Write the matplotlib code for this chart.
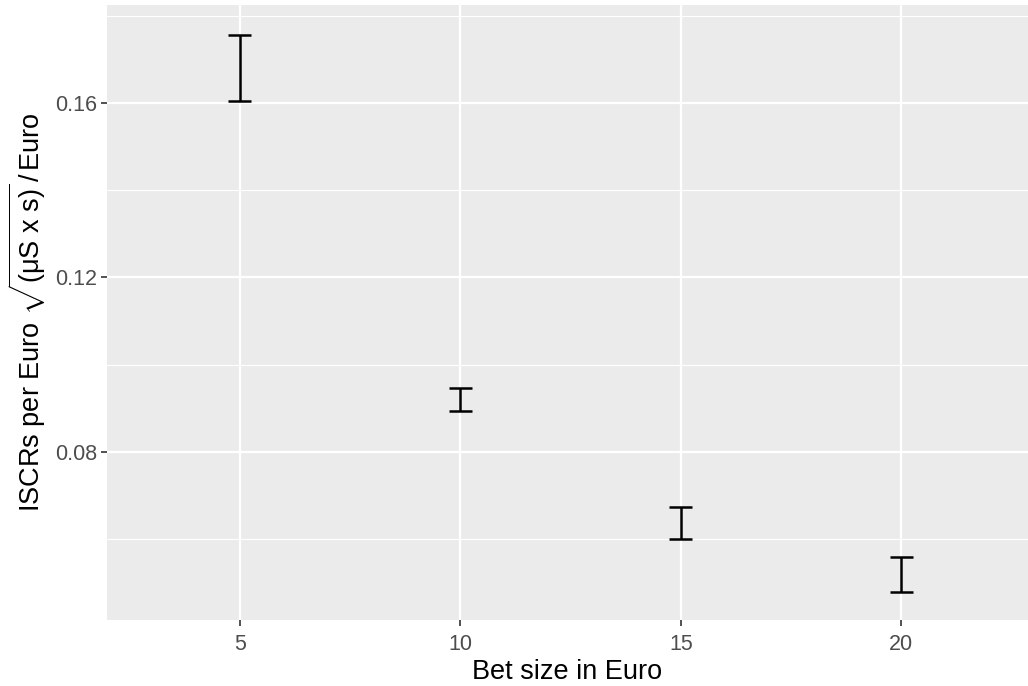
import matplotlib
matplotlib.use("Agg")
import matplotlib.pyplot as plt
import numpy as np

# data
bet_size = np.array([5, 10, 15, 20])
iscr_low = np.array([0.1605, 0.0894, 0.0601, 0.0479])
iscr_high = np.array([0.1756, 0.0947, 0.0674, 0.0559])
cap_width = 0.52

plt.rcParams["font.family"] = ["Liberation Sans", "DejaVu Sans"]
plt.rcParams["mathtext.fontset"] = "custom"
plt.rcParams["mathtext.rm"] = "Liberation Sans"
plt.rcParams["mathtext.it"] = "Liberation Sans"

fig = plt.figure(figsize=(10.28, 6.86), dpi=100)
ax = fig.add_axes([0.1041, 0.0962, 0.8955, 0.8965])
ax.set_facecolor("#EBEBEB")

ax.set_xlim(1.99, 22.86)
ax.set_ylim(0.04149, 0.18246)

ax.set_xticks([5, 10, 15, 20])
ax.set_yticks([0.08, 0.12, 0.16])
ax.set_yticklabels(["0.08", "0.12", "0.16"])
ax.set_yticks([0.06, 0.10, 0.14, 0.18], minor=True)
ax.grid(which="major", color="white", linewidth=1.6)
ax.grid(which="minor", axis="y", color="white", linewidth=0.8)
ax.set_axisbelow(True)

for s in ax.spines.values():
    s.set_visible(False)
ax.tick_params(which="major", length=4, width=1.2, color="#333333",
               labelsize=15.5, labelcolor="#4D4D4D", pad=3)
ax.tick_params(axis="x", which="major", pad=6)
ax.tick_params(which="minor", length=0)

# error bars
ax.vlines(bet_size, iscr_low, iscr_high, color="black", linewidth=1.8)
ax.hlines(iscr_low, bet_size - cap_width / 2, bet_size + cap_width / 2,
          color="black", linewidth=1.8)
ax.hlines(iscr_high, bet_size - cap_width / 2, bet_size + cap_width / 2,
          color="black", linewidth=1.8)

ax.set_xlabel("Bet size in Euro", fontsize=19.5, labelpad=3)
ax.set_ylabel(r"ISCRs per Euro $\sqrt{\mathregular{(\mu S\ x\ s)}}\,/\,\mathregular{Euro}$",
              fontsize=19.5, labelpad=5)

fig.savefig("out.png", dpi=100)
